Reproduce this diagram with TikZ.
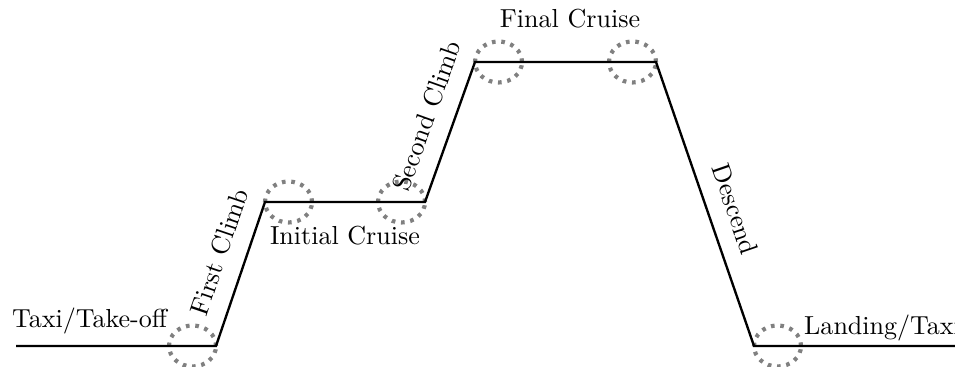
\documentclass[tikz,border=0pt]{standalone}
\usepackage{tikz}

\begin{document}
\begin{tikzpicture}[x=0.384pt,y=0.384pt]
		% Define styles for the flight profile and the phase markers
		\tikzset{profile/.style={line width=0.9pt},
			phase/.style={gray, line width=1.6pt, dash pattern=on 1.4pt off 2.2pt},
			phaselabel/.style={sloped, above, inner sep=6.6pt}}
		
		% Fix the size of the picture
		\useasboundingbox (0,0) rectangle (955,367);
		
		% Corners of the flight profile
		\coordinate (start) at (16,21);
		\coordinate (climbA) at (216,21);
		\coordinate (cruiseA) at (265,165);
		\coordinate (climbB) at (425,165);
		\coordinate (cruiseB) at (475,305);
		\coordinate (descent) at (656,305);
		\coordinate (landing) at (754,21);
		\coordinate (end) at (962,21);
		
		% Draw the dotted circles at the phase changes
		\draw[phase] (climbA) ++(-23.5,0) ellipse [x radius=23.5, y radius=20.5];
		\draw[phase] (cruiseA) ++(23.5,0) ellipse [x radius=23.5, y radius=20.5];
		\draw[phase] (climbB) ++(-23.5,0) ellipse [x radius=23.5, y radius=20.5];
		\draw[phase] (cruiseB) ++(23.5,0) ellipse [x radius=23.5, y radius=20.5];
		\draw[phase] (descent) ++(-23.5,0) ellipse [x radius=23.5, y radius=20.5];
		\draw[phase] (landing) ++(23.5,0) ellipse [x radius=23.5, y radius=20.5];
		
		% Draw the flight profile
		\draw[profile] (start) -- (climbA) -- (cruiseA) -- (climbB) -- (cruiseB) -- (descent) -- (landing) -- (end);
		
		% Add labels along the slopes
		\path (climbA) -- node[phaselabel, pos=0.59] (firstclimb) {First Climb} (cruiseA);
		\path (climbB) -- node[phaselabel, pos=0.55] (secondclimb) {Second Climb} (cruiseB);
		\path (descent) -- node[phaselabel, pos=0.55] (descend) {Descend} (landing);
		
		% Add labels of the level parts
		\node[anchor=base west] (taxi) at (3,39) {Taxi/Take-off};
		\node[anchor=base] (initial) at (345,122) {Initial Cruise};
		\node[anchor=base] (final) at (570,339) {Final Cruise};
		\node[anchor=base west] (landtaxi) at (795,32) {Landing/Taxi};
	\end{tikzpicture}
\end{document}
